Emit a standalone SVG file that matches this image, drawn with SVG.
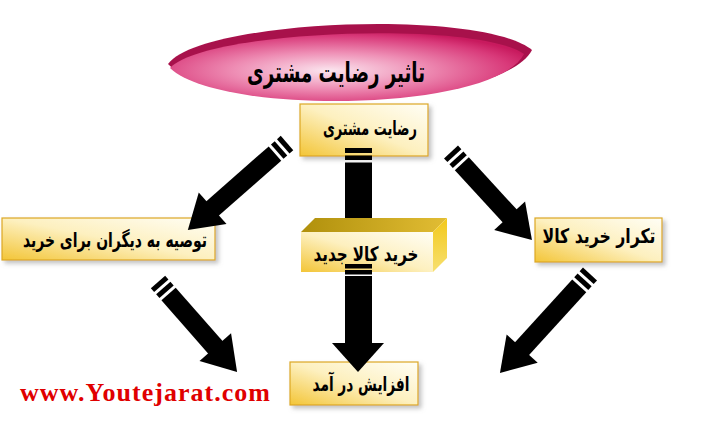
<svg xmlns="http://www.w3.org/2000/svg" xmlns:xlink="http://www.w3.org/1999/xlink" width="702" height="432" viewBox="0 0 702 432">
<style>
.fa{font-family:"DejaVu Sans Condensed","DejaVu Sans",sans-serif;font-weight:bold;fill:#000;text-anchor:middle}
.box{fill:url(#boxg);stroke:#dca722;stroke-width:1.2;filter:url(#sh)}
.blk{fill:#000}
</style>
<defs>
<linearGradient id="boxg" x1="1" y1="0" x2="0" y2="1">
<stop offset="0" stop-color="#fffef6"/>
<stop offset="0.5" stop-color="#fdf0bf"/>
<stop offset="1" stop-color="#f3c537"/>
</linearGradient>
<radialGradient id="ellg" cx="0.45" cy="0.55" r="0.6">
<stop offset="0" stop-color="#fbe6ef"/>
<stop offset="0.45" stop-color="#ee8db4"/>
<stop offset="0.85" stop-color="#d93a7a"/>
<stop offset="1" stop-color="#c81a5e"/>
</radialGradient>
<linearGradient id="topg" x1="0" y1="0" x2="1" y2="0">
<stop offset="0" stop-color="#b0900c"/>
<stop offset="1" stop-color="#e2bd34"/>
</linearGradient>
<linearGradient id="sideg" x1="0" y1="0" x2="0" y2="1">
<stop offset="0" stop-color="#f2c81a"/>
<stop offset="1" stop-color="#f7e070"/>
</linearGradient>
<filter id="sh" x="-10%" y="-20%" width="130%" height="150%">
<feDropShadow dx="3" dy="3" stdDeviation="2" flood-color="#888" flood-opacity="0.5"/>
</filter>
<g id="tail">
<rect x="0" y="-9.5" width="5" height="19"/>
<rect x="8" y="-9.5" width="5" height="19"/>
</g>
<polygon id="head" points="-33,-21 0,0 -33,21"/>
</defs>
<rect width="702" height="432" fill="#fff"/>

<g id="title">
<path d="M168,64 C200,20 480,8 532,50 C500,110 220,115 168,64 Z" fill="#a8114b"/>
<path d="M170,68 C205,30 475,20 524,54 C495,112 220,116 170,68 Z" fill="url(#ellg)"/>
<text class="fa" x="336" y="82" font-size="28" textLength="178" lengthAdjust="spacingAndGlyphs">تاثیر رضایت مشتری</text>
</g>

<g id="n-satisfaction">
<rect class="box" x="300" y="104" width="128" height="52"/>
<text class="fa" x="370" y="135" font-size="20" textLength="94" lengthAdjust="spacingAndGlyphs">رضایت مشتری</text>
</g>

<g id="n-recommend">
<rect class="box" x="2" y="218" width="213" height="42"/>
<text class="fa" x="115" y="247" font-size="20" textLength="184" lengthAdjust="spacingAndGlyphs">توصیه به دیگران برای خرید</text>
</g>

<g id="n-repeat">
<rect class="box" x="535" y="218" width="127" height="44"/>
<text class="fa" x="599" y="243" font-size="20" textLength="113" lengthAdjust="spacingAndGlyphs">تکرار خرید کالا</text>
</g>

<g id="n-newpurchase">
<polygon points="301,232 315,218 447,218 433,232" fill="url(#topg)"/>
<polygon points="433,232 447,218 447,258 433,272" fill="url(#sideg)"/>
<rect x="301" y="232" width="132" height="40" fill="url(#boxg)"/>
<text class="fa" x="366" y="261" font-size="20" textLength="105" lengthAdjust="spacingAndGlyphs">خرید کالا جدید</text>
</g>

<g id="n-income">
<rect class="box" x="290" y="362" width="128" height="43"/>
<text class="fa" x="361" y="391" font-size="20" textLength="97" lengthAdjust="spacingAndGlyphs">افزایش در آمد</text>
</g>

<g id="connectors" class="blk">
<g transform="translate(287 143) rotate(138.7)">
<use xlink:href="#tail"/><rect x="16" y="-9.5" width="86" height="19"/><use xlink:href="#head" x="132"/>
</g>
<g transform="translate(451 152) rotate(47.4)">
<use xlink:href="#tail"/><rect x="16" y="-9.5" width="74" height="19"/><use xlink:href="#head" x="119.6"/>
</g>
<g transform="translate(158 282) rotate(48.7)">
<use xlink:href="#tail"/><rect x="16" y="-9.5" width="74" height="19"/><use xlink:href="#head" x="119.8"/>
</g>
<g transform="translate(590 274) rotate(132.3)">
<use xlink:href="#tail"/><rect x="16" y="-9.5" width="88" height="19"/><use xlink:href="#head" x="133.8"/>
</g>
<rect x="345" y="148" width="27" height="5"/>
<rect x="345" y="155.5" width="27" height="4.5"/>
<rect x="345" y="162.5" width="27" height="55.5"/>
<rect x="345" y="264" width="27" height="4.5"/>
<rect x="345" y="270" width="27" height="4.5"/>
<rect x="345" y="276" width="27" height="68"/>
<polygon points="332,343 384,343 358,372"/>
</g>

<text x="20" y="401" font-family="'Liberation Serif',serif" font-weight="bold" font-size="26" fill="#e00000" textLength="250" lengthAdjust="spacing">www.Youtejarat.com</text>
</svg>
